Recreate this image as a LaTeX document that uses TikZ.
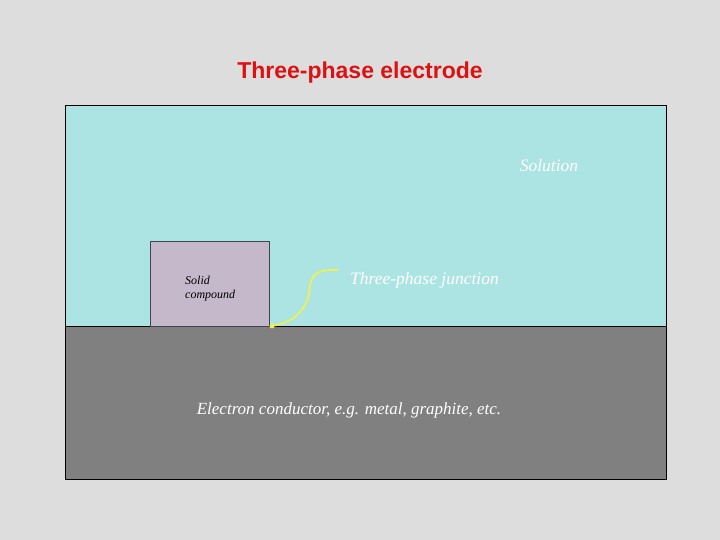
\documentclass[tikz,border=0pt]{standalone}
\usepackage{fontspec}
\setmainfont{Liberation Serif}
\newfontfamily\titlefont{Liberation Sans}
\definecolor{bgray}{HTML}{DDDDDD}
\definecolor{solution}{HTML}{ACE3E3}
\definecolor{conductor}{HTML}{808080}
\definecolor{solid}{HTML}{C5B8CA}
\definecolor{junction}{HTML}{EEF055}
\definecolor{titlered}{HTML}{DD1111}
\tikzset{
  label/.style={font=\itshape\fontsize{17.5}{20}\selectfont, text=white, inner sep=0pt},
  phase/.style={draw=black, line width=0.6pt}
}
\begin{document}
\begin{tikzpicture}[x=1pt, y=-1pt]
      \fill[bgray] (0,0) rectangle (720,540);
      \useasboundingbox (0,0) rectangle (720,540);
      \draw[phase, fill=solution] (65,105) rectangle (666,326);
      \draw[phase, fill=conductor] (65,326) rectangle (666,479);
      \draw[phase, fill=solid, draw=black!80!cyan] (150,241) rectangle (269,326);
      \draw
        (360,73) node (title){\titlefont\bfseries\fontsize{23}{27}\selectfont\color{titlered}Three-phase electrode}
        (549,166) node[label] (solution){Solution}
        (185,289) node[anchor=west, align=left, inner sep=0pt,
          font=\itshape\fontsize{12}{14}\selectfont] (solid){Solid\\compound}
        (350,280) node[label, anchor=west] (junction){Three-phase junction}
        (349,410) node[label, font=\itshape\fontsize{17}{20}\selectfont] (conductor){Electron conductor, e.g. metal, graphite, etc.}
        (272,326) node[circle, fill=junction, inner sep=1.7pt] (dot){};
      \begin{scope}[-]
        \draw[junction, line width=1.8pt] (junction.west) ++(-12,-10)
          .. controls (300,268) and (315,290) .. (305,305)
          .. controls (298,318) and (285,324) .. (dot.center);
      \end{scope}
    \end{tikzpicture}
\end{document}
